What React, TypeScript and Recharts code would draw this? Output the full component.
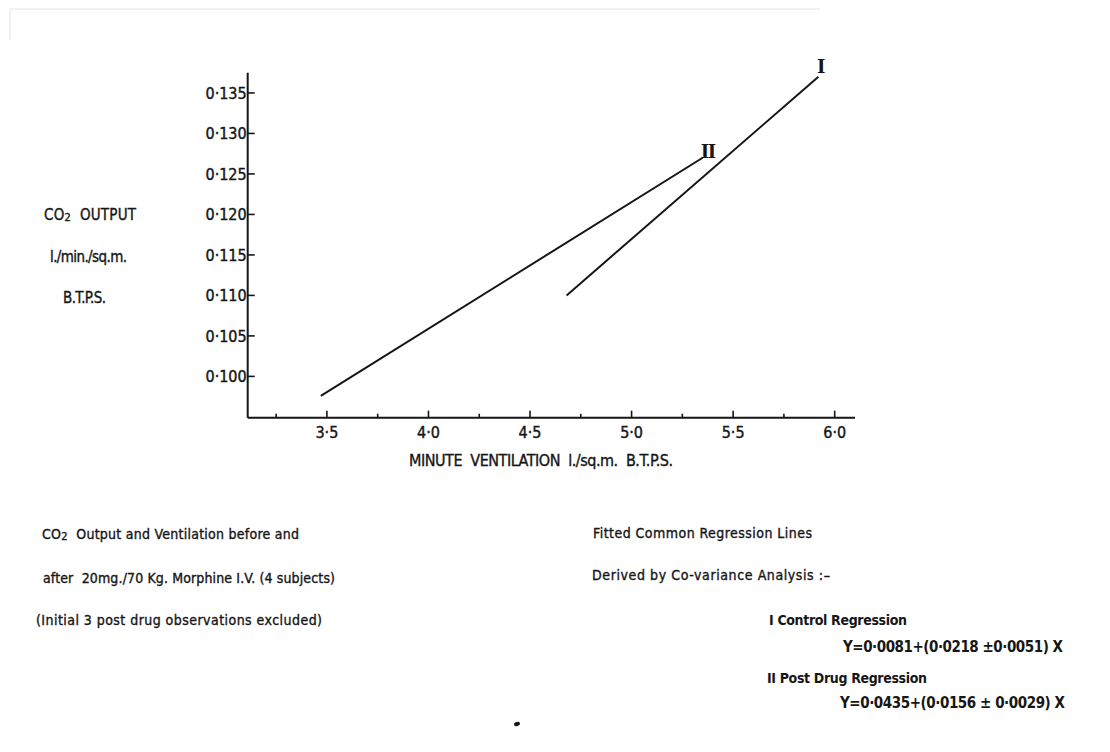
import React from 'react';
import { LineChart, Line, XAxis, YAxis } from 'recharts';

// Fitted regression lines (minute ventilation vs CO2 output)
const controlLine = [
  { x: 4.68, y: 0.11 },
  { x: 5.92, y: 0.137 },
];
const postDrugLine = [
  { x: 3.47, y: 0.0976 },
  { x: 5.35, y: 0.127 },
];
const lineNames = ['I', 'II'];

const xMajorTicks = [3.5, 4.0, 4.5, 5.0, 5.5, 6.0];
const xMinorTicks = [3.25, 3.75, 4.25, 4.75, 5.25, 5.75];
const yTicks = [0.1, 0.105, 0.11, 0.115, 0.12, 0.125, 0.13, 0.135];
const xDomain = [3.11, 6.1];
const yDomain = [0.0949, 0.1375];

const INK = '#161616';
const FONT = "'Liberation Sans Narrow', 'DejaVu Sans Condensed', 'Liberation Sans', sans-serif";

const dotted = (v: number, digits: number) => v.toFixed(digits).replace('.', '\u00B7');

const XTick = (props: any) => {
  const { x, y, payload } = props;
  const major = xMajorTicks.includes(payload.value);
  return (
    <g>
      <line x1={x} x2={x} y1={y} y2={y - (major ? 7 : 4)} stroke={INK} strokeWidth={1.6} />
      {major && (
        <text x={x} y={y + 15} dy="0.35em" textAnchor="middle" fontFamily={FONT} fontSize={16}
          fill={INK} stroke={INK} strokeWidth={0.4}>
          {dotted(payload.value, 1)}
        </text>
      )}
    </g>
  );
};

const YTick = (props: any) => {
  const { x, y, payload } = props;
  return (
    <g>
      <line x1={x} x2={x + 7} y1={y} y2={y} stroke={INK} strokeWidth={1.6} />
      <text x={x - 1} y={y} dy="0.35em" textAnchor="end" fontFamily={FONT} fontSize={16}
        fill={INK} stroke={INK} strokeWidth={0.4}>
        {dotted(payload.value, 3)}
      </text>
    </g>
  );
};

const endLabel = (name: string, count: number, dx: number, dy: number) => (props: any) => {
  const { x, y, index } = props;
  if (index !== count - 1) return null;
  return (
    <text
      key={name}
      x={x + dx}
      y={y + dy}
      textAnchor="middle"
      fontFamily="'DejaVu Serif', serif"
      fontWeight="bold"
      fontSize={18}
      letterSpacing={-1.5}
      fill={INK}
    >
      {name}
    </text>
  );
};

type Note = { text: React.ReactNode; x: number; y: number; w: number; size: number; bold?: boolean };

const sub2 = <tspan fontSize={11} dy={1}>2</tspan>;

const notes: Note[] = [
  { text: <>CO{sub2}<tspan dy={-1}>{'\u00A0\u00A0'}OUTPUT</tspan></>, x: 44, y: 215, w: 92, size: 15 },
  { text: 'l./min./sq.m.', x: 50, y: 257, w: 77, size: 15 },
  { text: 'B.T.P.S.', x: 63, y: 298, w: 43, size: 15 },
  { text: 'MINUTE\u00A0\u00A0VENTILATION\u00A0\u00A0l./sq.m.\u00A0\u00A0B.T.P.S.', x: 409, y: 460, w: 264, size: 16 },
  { text: <>CO{sub2}<tspan dy={-1}>{'\u00A0\u00A0'}Output and Ventilation before and</tspan></>, x: 42, y: 534, w: 257, size: 14 },
  { text: 'after  20mg./70 Kg. Morphine I.V. (4 subjects)', x: 43, y: 578, w: 292, size: 14 },
  { text: '(Initial 3 post drug observations excluded)', x: 36, y: 620, w: 286, size: 14 },
  { text: 'Fitted Common Regression Lines', x: 593, y: 533, w: 219, size: 14 },
  { text: 'Derived by Co-variance Analysis :\u2013', x: 592, y: 575, w: 238, size: 14 },
  { text: 'I Control Regression', x: 769, y: 620, w: 138, size: 14, bold: true },
  { text: 'Y=0\u00B70081+(0\u00B70218 \u00B10\u00B70051) X', x: 843, y: 647, w: 220, size: 15, bold: true },
  { text: 'II Post Drug Regression', x: 767, y: 678, w: 160, size: 14, bold: true },
  { text: 'Y=0\u00B70435+(0\u00B70156 \u00B1 0\u00B70029) X', x: 840, y: 703, w: 225, size: 15, bold: true },
];

export default function App() {
  return (
    <div style={{ position: 'absolute', left: 0, top: 0, width: 1110, height: 752, background: '#fff' }}>
      <LineChart
        width={1110}
        height={752}
        margin={{ top: 72.7, left: 246.7, right: 255, bottom: 333.3 }}
      >
        <XAxis
          type="number"
          dataKey="x"
          domain={xDomain}
          allowDataOverflow
          ticks={[...xMinorTicks, ...xMajorTicks].sort((a, b) => a - b)}
          interval={0}
          height={1}
          tickSize={0}
          tickMargin={0}
          tickLine={false}
          axisLine={{ stroke: INK, strokeWidth: 2 }}
          tick={<XTick />}
        />
        <YAxis
          type="number"
          dataKey="y"
          domain={yDomain}
          allowDataOverflow
          ticks={yTicks}
          interval={0}
          width={1}
          tickSize={0}
          tickMargin={0}
          tickLine={false}
          axisLine={{ stroke: INK, strokeWidth: 2 }}
          tick={<YTick />}
        />
        <Line
          data={controlLine}
          dataKey="y"
          stroke={INK}
          strokeWidth={2}
          dot={false}
          isAnimationActive={false}
          label={endLabel(lineNames[0], controlLine.length, 2, -4)}
        />
        <Line
          data={postDrugLine}
          dataKey="y"
          stroke={INK}
          strokeWidth={2}
          dot={false}
          isAnimationActive={false}
          label={endLabel(lineNames[1], postDrugLine.length, 5, 0)}
        />
      </LineChart>
      <svg
        width={1110}
        height={752}
        style={{ position: 'absolute', left: 0, top: 0, pointerEvents: 'none' }}
      >
        <path d="M10 9 H820 M10 9 V40" stroke="#e2e2e2" strokeWidth={1} fill="none" />
        {notes.map((n, i) => (
          <text
            key={i}
            x={n.x}
            y={n.y}
            dy="0.35em"
            textLength={n.w}
            lengthAdjust="spacing"
            fontFamily={FONT}
            fontSize={n.size}
            fontWeight={n.bold ? 'bold' : 'normal'}
            fill={INK}
            stroke={INK}
            strokeWidth={n.bold ? 0 : 0.35}
            style={{ whiteSpace: 'pre' }}
          >
            {n.text}
          </text>
        ))}
        <ellipse cx={517} cy={724} rx={3} ry={2} fill={INK} transform="rotate(-20 517 724)" />
      </svg>
    </div>
  );
}
